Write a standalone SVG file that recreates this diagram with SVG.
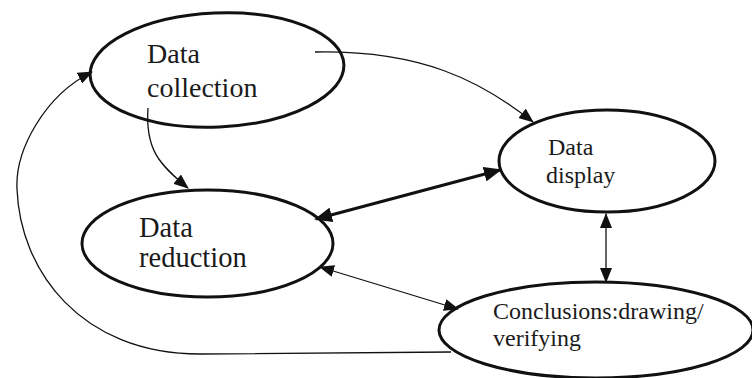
<svg xmlns="http://www.w3.org/2000/svg" width="752" height="378" viewBox="0 0 752 378">
<style>
.node{fill:#fff;stroke:#111;stroke-width:3}
.lbl{font-family:"Liberation Serif","Times New Roman",serif;fill:#1a1a1a}
.thin{fill:none;stroke:#111;stroke-width:1.3}
.thick{fill:none;stroke:#111;stroke-width:3}
</style>
<defs>
<marker id="ah" markerUnits="userSpaceOnUse" markerWidth="15" markerHeight="12" refX="14" refY="6" orient="auto-start-reverse" viewBox="0 0 15 12">
<path d="M0,0 L15,6 L0,12 z" fill="#111"/>
</marker>
<marker id="ahb" markerUnits="userSpaceOnUse" markerWidth="18" markerHeight="15" refX="16" refY="7.5" orient="auto-start-reverse" viewBox="0 0 18 15">
<path d="M0,0 L18,7.5 L0,15 z" fill="#111"/>
</marker>
</defs>
<rect width="752" height="378" fill="#fff"/>
<g id="data-collection">
<ellipse class="node" cx="217" cy="70" rx="127" ry="57" transform="rotate(-2.5 217 70)"/>
<text class="lbl" x="147" y="63" font-size="28">Data</text>
<text class="lbl" x="147" y="97" font-size="28">collection</text>
</g>
<g id="data-display">
<ellipse class="node" cx="607" cy="161" rx="108" ry="51"/>
<text class="lbl" x="548" y="155" font-size="24">Data</text>
<text class="lbl" x="546" y="183" font-size="24">display</text>
</g>
<g id="data-reduction">
<ellipse class="node" cx="207.5" cy="243.5" rx="125.5" ry="53.5"/>
<text class="lbl" x="139" y="237" font-size="28.5">Data</text>
<text class="lbl" x="139" y="267" font-size="28.5">reduction</text>
</g>
<g id="conclusions">
<ellipse class="node" cx="596" cy="330" rx="157" ry="48"/>
<text class="lbl" x="493" y="319" font-size="24">Conclusions:drawing/</text>
<text class="lbl" x="493" y="346" font-size="24">verifying</text>
</g>
<g id="connectors">
<path class="thin" d="M315,52 C420,50 480,80 533,122" marker-end="url(#ah)"/>
<path class="thin" d="M148,108 C145,150 160,165 188,188" marker-end="url(#ah)"/>
<path class="thick" d="M316,219 L500,170" marker-start="url(#ahb)" marker-end="url(#ahb)"/>
<path class="thin" d="M606,214 L606,282" marker-start="url(#ah)" marker-end="url(#ah)"/>
<path class="thin" d="M320,267 L458,309" marker-start="url(#ah)" marker-end="url(#ah)"/>
<path class="thin" d="M451,352 L200,354 C80,354 20,270 17,189 C15,150 45,95 92,72" marker-end="url(#ah)"/>
</g>
</svg>
